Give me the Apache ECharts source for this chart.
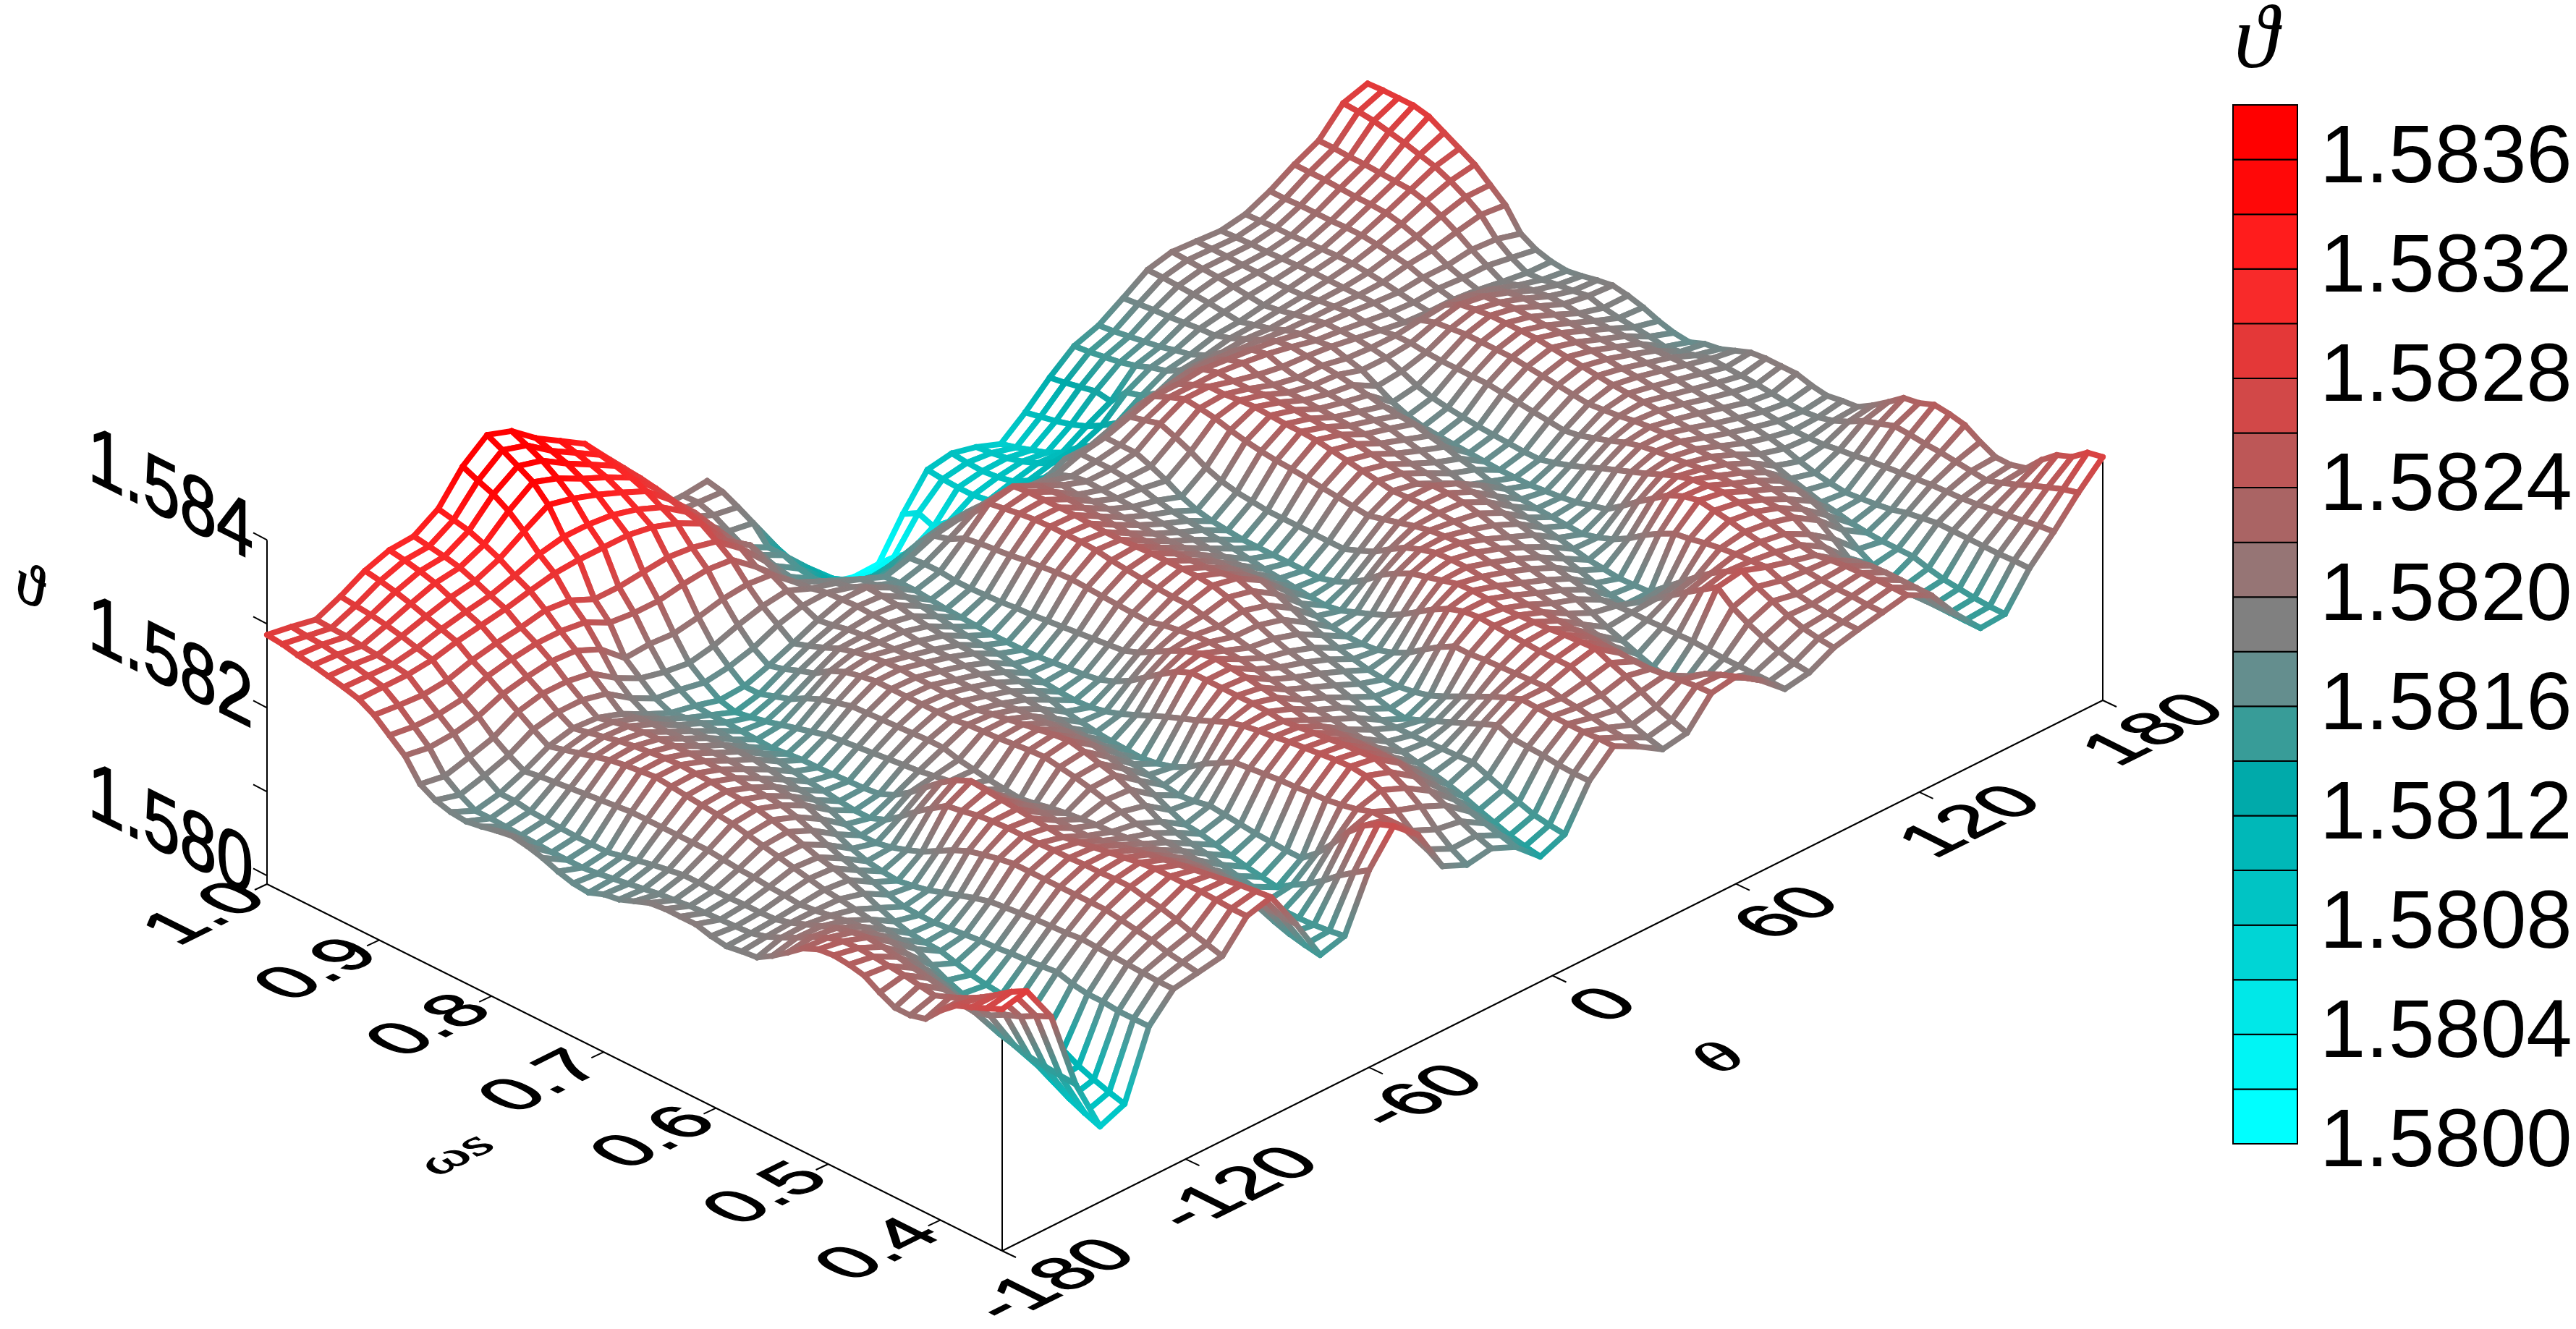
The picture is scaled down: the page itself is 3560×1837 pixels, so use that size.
<!DOCTYPE html>
<html><head><meta charset="utf-8">
<style>html,body{margin:0;padding:0;background:#fff}#c{width:3560px;height:1837px}</style>
<script src="https://cdn.jsdelivr.net/npm/echarts@6/dist/echarts.min.js"></script>
</head><body><div id="c"></div>
<script>
// surface values, in 1e-5 above 1.58; each row is one s level (s = 1.0 first), each column one theta level
const row00=[287,282,276,289,305,315,317,335,371,394,384,361,343,325,292,250,205,205,208,165,115,65,30,14,6,7,52,90,95,88,77,100,127,150,160,178,197,204,202,200,205,218,235,249,279,288];
const row01=[285,280,275,287,302,312,314,331,363,385,376,355,338,321,290,250,208,206,204,155,108,62,38,22,18,24,62,88,93,90,82,104,130,152,162,180,197,203,202,201,206,218,235,249,278,289];
const row02=[281,279,274,285,298,308,311,327,356,375,367,349,333,317,288,250,212,200,195,148,102,64,45,33,30,38,55,87,92,93,88,108,134,155,165,182,196,202,202,202,207,219,235,248,276,289];
const row03=[278,276,272,282,293,303,307,320,345,365,355,340,327,312,285,250,212,190,185,140,100,68,52,45,45,52,70,87,94,98,94,113,138,158,168,183,195,201,201,202,207,219,234,248,272,289];
const row04=[274,273,270,278,287,295,300,312,330,347,340,330,318,305,280,250,205,180,165,130,100,78,65,60,62,65,80,90,98,105,103,120,135,163,171,185,194,199,201,203,208,219,233,247,268,285];
const row05=[270,269,268,273,281,287,292,301,312,318,318,315,307,295,275,245,210,180,165,135,108,90,80,78,80,85,95,100,108,115,118,130,155,170,176,187,192,197,200,204,209,220,233,246,263,275];
const row06=[265,265,265,268,275,280,285,292,298,300,300,300,295,285,270,235,215,176,158,133,108,105,98,98,100,105,112,118,120,125,130,142,160,175,180,188,190,195,200,205,210,220,232,245,258,265];
const row07=[255,252,250,253,262,268,272,278,275,262,262,265,268,265,258,235,205,172,155,130,118,125,118,118,122,125,128,132,135,140,148,155,172,185,188,194,195,198,201,205,210,218,228,240,250,255];
const row08=[240,236,236,240,252,258,262,262,258,243,240,240,245,248,245,222,196,170,158,145,140,148,148,148,148,150,148,150,150,160,170,178,190,200,200,202,200,202,204,205,208,215,222,232,240,240];
const row09=[225,220,222,228,240,246,250,248,235,210,212,210,215,222,225,222,198,185,172,155,155,172,178,180,175,170,170,185,185,195,205,210,215,215,212,210,207,206,206,205,206,212,215,222,228,225];
const row10=[200,195,203,212,228,235,235,230,210,195,188,184,190,200,208,212,200,192,182,170,178,190,195,198,195,192,190,200,205,215,225,225,228,225,222,218,212,210,208,205,203,206,206,210,208,200];
const row11=[190,182,190,200,216,222,222,215,195,180,176,170,174,182,195,203,204,196,184,172,180,195,212,218,212,205,197,200,205,220,233,233,233,230,226,220,213,210,206,202,200,202,200,200,195,190];
const row12=[185,172,178,190,205,212,210,200,185,172,166,158,160,170,182,195,205,205,190,172,180,205,232,238,224,210,200,200,205,225,240,240,232,225,220,218,215,210,205,200,198,198,195,190,186,185];
const row13=[183,172,178,193,210,216,214,204,188,175,164,153,160,175,188,198,206,204,188,170,178,208,235,240,226,208,199,198,198,218,238,240,232,222,216,216,210,208,208,212,215,212,205,195,187,183];
const row14=[186,171,175,195,215,220,218,206,190,178,164,156,166,182,195,202,205,202,186,168,178,210,238,240,226,209,198,195,190,210,235,242,234,222,216,214,205,205,208,218,225,220,210,198,190,186];
const row15=[190,170,174,197,220,224,220,206,192,178,163,160,172,188,203,204,204,198,183,167,179,212,240,240,225,209,197,190,180,200,230,243,234,222,215,211,195,198,206,220,228,222,212,200,192,190];
const row16=[193,169,173,199,225,227,221,207,193,177,162,165,182,200,208,205,203,195,180,166,180,215,241,240,224,208,196,186,173,193,226,242,234,221,214,208,185,190,205,222,230,224,212,200,195,193];
const row17=[190,168,172,201,228,229,222,207,194,177,161,170,190,208,212,206,201,193,178,165,182,217,241,239,223,208,195,184,169,189,223,241,233,220,212,204,178,185,205,222,230,223,211,198,190,190];
const row18=[185,168,172,203,230,231,222,208,195,178,163,175,195,212,214,207,200,191,176,165,183,219,241,238,222,207,194,182,167,187,221,241,232,219,211,202,174,182,205,222,230,222,210,198,187,185];
const row19=[178,168,172,205,232,232,222,208,195,178,165,180,200,215,215,208,200,190,175,165,185,220,240,238,222,207,194,180,165,185,220,240,232,218,210,201,172,180,205,222,230,222,210,198,185,178];
const row20=[173,170,176,205,230,231,221,207,192,175,165,182,201,215,214,207,199,188,172,166,187,219,237,239,223,208,193,178,165,185,218,237,230,216,206,196,171,178,203,220,228,220,209,198,183,173];
const row21=[171,173,180,205,228,230,220,205,189,172,166,184,202,215,214,206,198,186,170,168,189,218,235,240,225,209,192,175,165,185,216,234,227,213,202,192,170,177,201,218,226,219,209,198,180,171];
const row22=[178,176,184,205,226,228,218,204,186,170,167,186,203,215,213,206,197,184,168,170,191,217,233,240,226,210,191,172,165,185,214,231,224,210,197,187,169,176,199,216,224,218,209,199,183,178];
const row23=[181,179,187,205,224,227,217,202,183,167,168,188,204,215,213,205,196,182,166,172,193,216,231,240,227,211,190,170,165,185,212,228,222,208,193,183,168,175,197,214,222,216,208,200,188,181];
const row24=[188,182,190,205,222,225,215,200,180,165,170,190,205,215,212,205,195,180,165,175,195,215,230,240,229,212,189,168,165,185,210,225,219,205,188,178,168,175,195,212,220,215,208,200,193,188];
const row25=[195,184,190,203,218,221,210,193,172,165,178,192,205,218,216,207,193,175,166,182,202,220,230,238,232,215,188,166,170,192,215,226,226,214,197,178,168,180,198,214,219,213,206,199,192,195];
const row26=[197,186,190,201,214,216,203,184,168,172,190,195,200,219,219,208,190,172,170,192,212,223,226,233,226,208,182,165,178,200,220,227,226,213,193,175,170,186,204,216,218,211,204,197,191,197];
const row27=[197,187,190,200,210,210,195,176,168,185,205,198,197,220,222,209,188,169,176,205,222,226,222,226,218,200,176,168,190,212,225,226,224,210,190,173,172,193,210,219,217,210,202,195,190,197];
const row28=[197,188,191,198,206,204,188,170,172,200,220,202,194,222,225,210,187,167,184,218,231,227,219,218,210,192,172,175,205,223,229,225,220,206,186,172,175,201,217,221,215,208,200,192,188,197];
const row29=[192,189,191,197,202,200,183,167,178,213,232,206,192,224,228,210,186,166,192,230,237,226,215,211,202,186,170,182,216,230,231,224,215,202,183,171,180,208,222,222,214,205,197,190,186,192];
const row30=[189,190,192,195,198,195,178,165,185,225,240,210,190,225,230,210,185,165,200,238,240,225,212,205,195,180,170,190,225,235,232,222,210,198,180,170,185,215,225,222,212,203,195,188,185,189];
const row31=[192,195,197,197,196,188,172,168,195,228,238,212,193,222,226,205,182,168,207,238,238,222,210,201,190,176,172,200,230,236,230,220,207,193,176,175,198,222,227,222,211,200,192,186,187,192];
const row32=[194,203,204,200,193,180,167,172,205,232,236,215,197,219,221,200,178,173,214,238,236,219,207,197,185,172,178,212,235,236,227,217,204,188,172,182,212,230,229,222,210,196,188,186,192,194];
const row33=[205,212,211,203,190,173,166,178,213,234,234,215,200,215,216,195,175,182,222,238,233,216,204,192,179,170,187,224,240,234,225,214,201,183,170,192,225,237,231,222,209,191,182,187,200,205];
const row34=[218,222,218,205,187,168,166,184,218,235,232,215,202,210,208,187,172,195,230,238,230,213,201,187,173,170,200,234,241,232,221,210,197,177,168,205,238,242,232,221,207,185,177,190,210,218];
const row35=[232,230,222,205,184,166,168,190,222,235,230,215,204,205,198,178,174,205,235,237,226,210,198,182,168,173,212,240,240,230,218,207,193,172,169,216,246,244,232,221,206,180,174,192,216,232];
const row36=[240,235,225,205,182,165,170,195,225,235,228,215,205,200,188,170,178,215,238,235,222,208,195,178,165,178,222,242,238,228,215,205,190,170,170,225,250,245,232,220,205,175,172,195,222,235];
const row37=[242,236,223,200,172,160,172,197,225,236,231,218,207,198,184,168,176,217,240,237,223,205,190,178,172,186,222,241,239,228,212,198,192,182,185,228,247,242,231,217,200,172,174,197,221,242];
const row38=[240,235,220,193,163,155,173,199,225,236,234,222,209,196,180,164,174,219,243,239,224,203,185,178,180,195,224,240,240,227,208,190,193,195,200,232,244,240,230,214,192,168,176,199,219,240];
const row39=[236,233,216,187,156,152,175,201,225,237,237,225,211,195,177,160,172,221,245,241,224,201,182,179,188,204,225,239,241,226,204,183,193,208,215,235,240,236,228,210,184,166,179,201,218,236];
const row40=[225,231,213,181,150,150,176,202,225,237,240,229,212,193,173,156,171,222,247,243,225,199,178,180,196,213,226,238,243,226,200,176,194,221,229,237,237,232,217,197,170,165,184,203,216,225];
const row41=[216,228,209,175,145,150,178,203,225,238,243,232,214,191,169,153,170,224,249,244,225,197,174,181,204,221,227,238,244,225,195,170,194,233,240,238,234,228,211,183,160,165,187,204,214,216];
const row42=[216,225,205,170,140,150,180,205,225,238,245,235,215,190,165,150,170,225,250,245,225,195,170,182,212,228,228,238,245,225,190,165,195,245,250,240,232,225,205,170,150,165,190,205,212,216];
const row43=[221,232,200,160,125,135,175,204,222,234,245,238,213,180,158,162,185,228,248,238,218,190,165,175,205,227,224,230,237,224,195,170,194,230,240,233,230,228,212,175,153,160,190,207,218,221];
const row44=[240,240,205,155,115,120,172,203,219,231,245,241,211,173,155,172,205,232,240,228,210,185,158,168,204,226,222,222,230,224,200,178,193,220,232,226,228,230,216,175,152,156,190,210,225,240];
const row45=[255,250,215,150,105,110,172,202,216,226,245,244,209,166,155,185,228,238,225,215,202,180,152,162,203,226,219,214,221,226,210,190,193,212,224,223,227,231,217,177,150,154,190,212,233,255];
const row46=[262,262,222,148,95,103,170,201,211,220,244,247,207,160,156,200,245,238,210,197,192,175,146,156,201,226,216,205,212,229,222,203,193,205,218,221,227,232,217,178,149,152,190,215,240,262];
const row47=[270,275,232,146,87,97,170,200,208,215,243,249,206,156,158,213,256,238,197,183,184,170,142,153,200,227,214,199,205,231,230,212,193,200,215,220,226,232,217,179,149,151,191,218,247,276];
const row48=[278,285,240,145,80,92,170,200,205,210,243,251,205,153,161,225,263,238,186,173,178,165,139,151,200,227,212,194,199,232,237,218,193,198,213,220,226,232,217,180,149,151,191,220,252,280];

const thetaTicks=[-180,-120,-60,0,60,120,180];
const sTicks=[1.0,0.9,0.8,0.7,0.6,0.5,0.4];
const zTicks=[1.580,1.581,1.582,1.583,1.584];
const zLabels=[1.580,1.582,1.584];
const legendLabels=['1.5800','1.5804','1.5808','1.5812','1.5816','1.5820','1.5824','1.5828','1.5832','1.5836'];
// bands from the bottom (1.5800-1.5802) upward
const legendColors=['#00ffff','#00f5f5','#00e8e8','#00d5d5','#00c4c4','#00b8b8','#00aaaa','#389c98','#648e8e','#808080','#967575','#aa6464','#bd5757','#d24848','#e43838','#f82a2a','#ff1c1c','#ff0808','#ff0000'];

const rows=[row00,row01,row02,row03,row04,row05,row06,row07,row08,row09,row10,row11,row12,row13,row14,row15,row16,row17,row18,row19,row20,row21,row22,row23,row24,row25,row26,row27,row28,row29,row30,row31,row32,row33,row34,row35,row36,row37,row38,row39,row40,row41,row42,row43,row44,row45,row46,row47,row48];
const bad=rows.map((r,k)=>r.length===46?null:k+':'+r.length).filter(Boolean);
if(bad.length) throw new Error('row lengths '+bad.join(','));

const NI=46,NJ=49,SMIN=0.345;
const ORIGIN=[369,1222],UVEC=[1521,-761],VVEC=[1016,507],ZSCALE=116000,ZBASE=1.5799;
const lm=echarts.number.linearMap;
function project(theta,s,z){
  const u=lm(theta,[-180,180],[0,1]),v=lm(s,[1,SMIN],[0,1]);
  return [ORIGIN[0]+UVEC[0]*u+VVEC[0]*v, ORIGIN[1]+UVEC[1]*u+VVEC[1]*v-(z-ZBASE)*ZSCALE];
}
const thetaAt=i=>lm(i,[0,NI-1],[-180,180]);
const sAt=j=>lm(j,[0,NJ-1],[1,SMIN]);
const zAt=(i,j)=>1.58+rows[j][i]*1e-5;
const vtx=(i,j)=>project(thetaAt(i),sAt(j),zAt(i,j));

function hexRgb(h){return [1,3,5].map(k=>parseInt(h.substr(k,2),16));}
const legendRgb=legendColors.map(hexRgb);
function colorOf(z){
  const t=Math.max(0,Math.min(legendRgb.length-1,(z-1.5801)/0.0002));
  const a=Math.floor(t),b=Math.min(legendRgb.length-1,a+1),f=t-a;
  const c=[0,1,2].map(k=>Math.round(legendRgb[a][k]*(1-f)+legendRgb[b][k]*f));
  return 'rgb('+c.join(',')+')';
}
function affine(m00,m10,m01,m11){
  const E=(m00+m11)/2,F=(m00-m11)/2,G=(m10+m01)/2,H=(m10-m01)/2;
  const Q=Math.hypot(E,H),R=Math.hypot(F,G);
  const a1=Math.atan2(G,F),a2=Math.atan2(H,E);
  return {outer:-(a2+a1)/2,inner:-(a2-a1)/2,sx:Q+R,sy:Q-R};
}
function skewText(x,y,text,font,align,T,bold){
  return {type:'group',x,y,rotation:T.outer,scaleX:T.sx,scaleY:T.sy,children:[
    {type:'group',rotation:T.inner,children:[
      {type:'text',style:{text,x:0,y:0,font,fill:'#000',stroke:bold?'#000':null,lineWidth:bold||0,textAlign:align,textVerticalAlign:'middle'}}
    ]}
  ]};
}
const EU=[0.894,-0.447],EV=[0.895,0.446];
const planeT=(kx,ky)=>affine(kx*EU[0],kx*EU[1],ky*0.894,ky*0.447);
const wallT=(kx,ky)=>affine(kx*EV[0],kx*EV[1],0,ky);
const NUM='100px "Liberation Sans"';

const quads=[];
for(let j=0;j<NJ-1;j++){for(let i=NI-2;i>=0;i--){quads.push([i,j]);}}
quads.sort((p,q)=>(-761*p[0]/45+507*p[1]/48)-(-761*q[0]/45+507*q[1]/48));

function seg(api,a,b,za,zb){
  const p=api.coord(a),q=api.coord(b);
  return {type:'line',shape:{x1:p[0],y1:p[1],x2:q[0],y2:q[1]},
    style:{lineWidth:8,lineCap:'round',fill:null,
      stroke:new echarts.graphic.LinearGradient(p[0],p[1],q[0],q[1],[{offset:0,color:colorOf(za)},{offset:1,color:colorOf(zb)}],true)}};
}
function surfaceItem(params,api){
  const [i,j]=quads[params.dataIndex];
  const P=[vtx(i,j),vtx(i+1,j),vtx(i+1,j+1),vtx(i,j+1)];
  const Z=[zAt(i,j),zAt(i+1,j),zAt(i+1,j+1),zAt(i,j+1)];
  const C=P.map(p=>api.coord(p));
  return {type:'group',children:[
    {type:'polygon',shape:{points:C},style:{fill:'#fff',stroke:null}},
    seg(api,P[0],P[1],Z[0],Z[1]),seg(api,P[1],P[2],Z[1],Z[2]),seg(api,P[2],P[3],Z[2],Z[3]),seg(api,P[3],P[0],Z[3],Z[0])
  ]};
}
const frame=[];
const ZB=ZBASE;
frame.push([project(-180,1,ZB),project(-180,1,1.584)]);
frame.push([project(-180,1,ZB),project(-180,SMIN,ZB)]);
frame.push([project(-180,SMIN,ZB),project(180,SMIN,ZB)]);
frame.push([project(-180,SMIN,ZB),vtx(0,NJ-1)]);
frame.push([project(180,SMIN,ZB),vtx(NI-1,NJ-1)]);
const TICK_U=[-17,8],TICK_V=[19,9],TICK_Z=[-19,-10];
const add=(p,d)=>[p[0]+d[0],p[1]+d[1]];
zTicks.forEach(z=>{const p=project(-180,1,z);frame.push([p,add(p,TICK_Z)]);});
sTicks.forEach(s=>{const p=project(-180,s,ZB);frame.push([p,add(p,TICK_U)]);});
thetaTicks.forEach(t=>{const p=project(t,SMIN,ZB);frame.push([p,add(p,TICK_V)]);});

const labels=[];
const T_PLANE=planeT(1.04,0.98),T_WALL=wallT(1.02,1.12);
zLabels.forEach(z=>{const p=project(-180,1,z);labels.push(skewText.bind(null,p[0]-19,p[1]-2,z.toFixed(3),NUM,'right',T_WALL,1.5));});
sTicks.forEach(s=>{const p=project(-180,s,ZB);labels.push(skewText.bind(null,p[0]-83,p[1]+42,s.toFixed(1),NUM,'center',T_PLANE,2));});
thetaTicks.forEach(t=>{const p=project(t,SMIN,ZB);labels.push(skewText.bind(null,p[0]+74,p[1]+42,String(t),NUM,'center',T_PLANE,2));});
labels.push(skewText.bind(null,631,1597,'ωs','italic 100px "Liberation Serif"','center',planeT(0.85,0.7),2));
labels.push(skewText.bind(null,2379,1464,'θ','italic 100px "Liberation Serif"','center',planeT(1.0,0.85),2));
labels.push(skewText.bind(null,41,813,'ϑ','italic 100px "Liberation Serif"','center',wallT(0.85,0.85),2));

const LEG={x:3086,w:89,top:145,bottom:1581};
const bandH=(LEG.bottom-LEG.top)/legendColors.length;

const option={
  animation:false,backgroundColor:'#fff',
  grid:{left:0,right:0,top:0,bottom:0},
  xAxis:{type:'value',min:0,max:3560,show:false},
  yAxis:{type:'value',min:0,max:1837,inverse:true,show:false},
  series:[
    {type:'custom',z:1,silent:true,clip:false,progressive:0,data:frame.map((f,k)=>[k,0]),encode:{x:0,y:1},
      renderItem(params,api){const f=frame[params.dataIndex];const p=api.coord(f[0]),q=api.coord(f[1]);
        return {type:'line',shape:{x1:p[0],y1:p[1],x2:q[0],y2:q[1]},style:{stroke:'#000',lineWidth:2,fill:null}};}},
    {type:'custom',z:2,silent:true,clip:false,progressive:0,data:labels.map((f,k)=>[k,0]),encode:{x:0,y:1},
      renderItem(params){return labels[params.dataIndex]();}},
    {type:'custom',z:3,silent:true,clip:false,progressive:0,data:quads,encode:{x:0,y:1},renderItem:surfaceItem},
    {type:'custom',z:4,silent:true,clip:false,progressive:0,data:legendColors.map((c,k)=>[k,0]),encode:{x:0,y:1},
      renderItem(params){const k=params.dataIndex;
        return {type:'rect',shape:{x:LEG.x,y:LEG.bottom-(k+1)*bandH,width:LEG.w,height:bandH},style:{fill:legendColors[k],stroke:'#000',lineWidth:2}};}},
    {type:'custom',z:4,silent:true,clip:false,progressive:0,data:legendLabels.map((c,k)=>[k,0]),encode:{x:0,y:1},
      renderItem(params){const k=params.dataIndex;
        return {type:'text',style:{text:legendLabels[k],x:3206,y:LEG.bottom-k*2*bandH,font:'114px "Liberation Sans"',fill:'#000',textAlign:'left',textVerticalAlign:'middle'}};}},
    {type:'custom',z:4,silent:true,clip:false,progressive:0,data:[[0,0]],encode:{x:0,y:1},
      renderItem(){return {type:'text',style:{text:'ϑ',x:3118,y:60,font:'italic 124px "Liberation Serif"',fill:'#000',textAlign:'center',textVerticalAlign:'middle'}};}}
  ]
};
const chart=echarts.init(document.getElementById('c'),null,{renderer:'canvas',width:3560,height:1837});
chart.setOption(option);
</script></body></html>
